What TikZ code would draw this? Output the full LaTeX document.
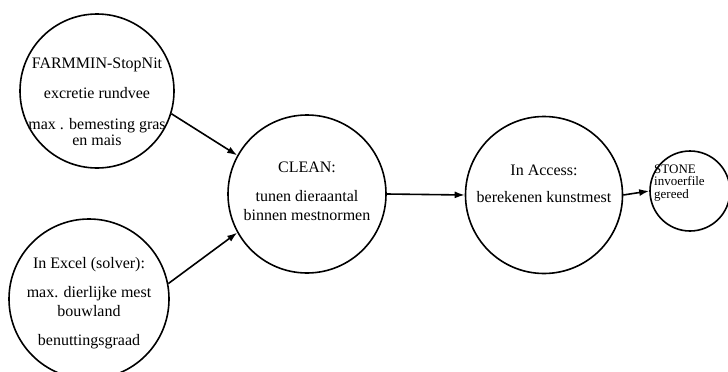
\documentclass[tikz,border=0pt]{standalone}
\usepackage{fontspec}
\setmainfont{Liberation Serif}
\usetikzlibrary{arrows.meta}
\tikzset{
  proc/.style={draw, circle, line width=1.6pt, inner sep=0pt},
  lbl/.style={inner sep=0pt, font=\fontsize{16}{19}\selectfont, align=center},
  small/.style={inner sep=0pt, font=\fontsize{13}{12.5}\selectfont, align=left, anchor=west},
  flow/.style={line width=1.6pt, -{Latex[length=10pt,width=7pt]}}
}
\begin{document}
\begin{tikzpicture}[x=1pt,y=-1pt]
\useasboundingbox (0,0) rectangle (728,372);
% circles
\node[proc, minimum size=154pt] (farm) at (97,91) {};
\node[proc, minimum size=160pt] (excel) at (89,299) {};
\node[proc, minimum size=158pt] (clean) at (307,194) {};
\node[proc, minimum size=157pt] (access) at (544,195) {};
\node[proc, minimum size=80pt] (stone) at (690,191) {};
% texts
\node[lbl] (t1) at (97,65) {FARMMIN-StopNit};
\node[lbl] (t2) at (97,93) {excretie rundvee};
\node[lbl] (t3) at (97,132) {max . bemesting gras\\[-3pt]en mais};
\node[lbl] (t4) at (89,265) {In Excel (solver):};
\node[lbl] (t5) at (89,302) {max. dierlijke mest\\bouwland};
\node[lbl] (t6) at (89,342) {benuttingsgraad};
\node[lbl] (t7) at (307,167) {CLEAN:};
\node[lbl] (t8) at (307,206) {tunen dieraantal\\binnen mestnormen};
\node[lbl] (t9) at (544,170) {In Access:};
\node[lbl] (t10) at (544,197) {berekenen kunstmest};
\node[small] (t11) at (654,183) {STONE\\invoerfile\\gereed};
% connectors
\draw[flow] (farm.-17) -- (clean.151);
\draw[flow] (excel.11) -- (clean.209);
\draw[flow] (clean.east) -- (access.west);
\draw[flow] (access.east) -- (stone.west);
\end{tikzpicture}
\end{document}
